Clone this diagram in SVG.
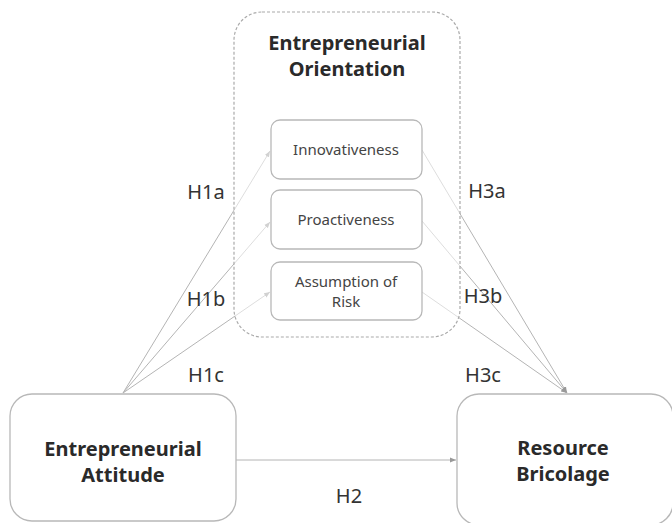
<svg xmlns="http://www.w3.org/2000/svg" width="672" height="523" viewBox="0 0 672 523">
<style>
text{font-family:"Noto Sans","Open Sans","DejaVu Sans",sans-serif;fill:#222;text-anchor:middle}
.b{font-weight:bold;font-size:20px;fill:#2a2a2a}
.s{font-size:15px;fill:#444}
.h{font-size:20px;fill:#333}
.box{fill:#fff;stroke:#b8b8b8;stroke-width:1.3}
.c{stroke:#b4b4b4;stroke-width:1;fill:none;marker-end:url(#a)}
</style>
<defs>
<marker id="a" viewBox="0 0 10 10" refX="10" refY="5" markerWidth="6" markerHeight="6" orient="auto"><path d="M0,1 L10,5 L0,9 Z" fill="#999"/></marker>
</defs>
<g id="connectors">
<path class="c" d="M123,393 L270,151"/>
<path class="c" d="M123,393 L270,222"/>
<path class="c" d="M123,393 L270,292"/>
<path class="c" d="M422,150 L567,393"/>
<path class="c" d="M422,221 L567,393"/>
<path class="c" d="M422,292 L567,393"/>
<path class="c" d="M236,460 L456,460"/>
</g>
<g id="eo">
<rect x="234" y="12" width="226" height="325" rx="28" fill="#fff" fill-opacity="0.55" stroke="#aaa" stroke-width="1.2" stroke-dasharray="3,2"/>
<text class="b" x="347" y="50">Entrepreneurial</text>
<text class="b" x="347" y="76">Orientation</text>
</g>
<g id="innov"><rect class="box" x="271" y="120" width="151" height="59" rx="9"/><text class="s" x="346" y="155">Innovativeness</text></g>
<g id="proact"><rect class="box" x="271" y="190" width="151" height="59" rx="9"/><text class="s" x="346" y="225">Proactiveness</text></g>
<g id="risk"><rect class="box" x="271" y="262" width="151" height="58" rx="9"/><text class="s" x="346" y="287">Assumption of</text><text class="s" x="346" y="307">Risk</text></g>
<g id="ea"><rect class="box" x="10" y="394" width="226" height="127" rx="22"/><text class="b" x="123" y="456">Entrepreneurial</text><text class="b" x="123" y="482">Attitude</text></g>
<g id="rb"><rect class="box" x="457" y="394" width="216" height="131" rx="22"/><text class="b" x="563" y="455">Resource</text><text class="b" x="563" y="481">Bricolage</text></g>
<g id="labels">
<text class="h" x="206" y="199">H1a</text>
<text class="h" x="206" y="306">H1b</text>
<text class="h" x="206" y="382">H1c</text>
<text class="h" x="487" y="198">H3a</text>
<text class="h" x="483" y="303">H3b</text>
<text class="h" x="483" y="382">H3c</text>
<text class="h" x="349" y="503">H2</text>
</g>
</svg>
